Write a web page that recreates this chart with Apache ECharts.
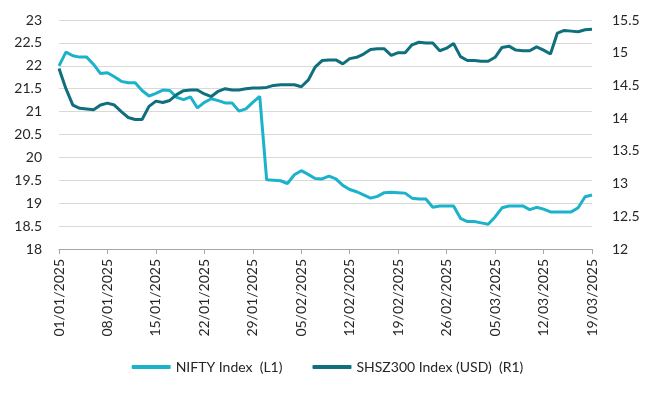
<!DOCTYPE html>
<html>
<head>
<meta charset="utf-8">
<script src="https://cdn.jsdelivr.net/npm/echarts@6/dist/echarts.min.js"></script>
<style>
  html, body { margin: 0; padding: 0; background: #fff; }
  #chartData { width: 655px; height: 398px; }
</style>
</head>
<body>
<div id="chartData"></div>
<script>
// daily dates 01/01/2025 .. 19/03/2025
var dates = [];
for (var i = 0; i < 78; i++) {
  var d = new Date(Date.UTC(2025, 0, 1 + i));
  var dd = String(d.getUTCDate()).padStart(2, '0');
  var mm = String(d.getUTCMonth() + 1).padStart(2, '0');
  dates.push(dd + '/' + mm + '/' + d.getUTCFullYear());
}

var nifty = [
  22.0, 22.3, 22.22, 22.19, 22.19, 22.03, 21.83, 21.85, 21.76, 21.66,
  21.63, 21.63, 21.46, 21.34, 21.4, 21.47, 21.46, 21.31, 21.26, 21.32,
  21.08, 21.2, 21.28, 21.24, 21.19, 21.19, 21.01, 21.06, 21.2, 21.33,
  19.51, 19.5, 19.49, 19.43, 19.62, 19.71, 19.63, 19.54, 19.53, 19.59,
  19.53, 19.39, 19.3, 19.25, 19.18, 19.11, 19.15, 19.23, 19.24, 19.23,
  19.22, 19.11, 19.09, 19.09, 18.91, 18.94, 18.94, 18.94, 18.67, 18.6,
  18.6, 18.57, 18.54, 18.7, 18.9, 18.94, 18.94, 18.94, 18.86, 18.91,
  18.87, 18.81, 18.81, 18.81, 18.81, 18.9, 19.14, 19.18
];

var shsz = [
  14.76, 14.45, 14.2, 14.15, 14.14, 14.13, 14.2, 14.23, 14.2, 14.1,
  14.01, 13.98, 13.98, 14.18, 14.26, 14.24, 14.27, 14.36, 14.42, 14.43,
  14.43, 14.37, 14.33, 14.41, 14.45, 14.43, 14.43, 14.45, 14.46, 14.46,
  14.47, 14.5, 14.51, 14.51, 14.51, 14.48, 14.58, 14.78, 14.88, 14.89,
  14.89, 14.83, 14.91, 14.93, 14.98, 15.05, 15.06, 15.06, 14.96, 15.0,
  15.0, 15.12, 15.16, 15.15, 15.15, 15.03, 15.07, 15.14, 14.94, 14.88,
  14.88, 14.87, 14.87, 14.93, 15.08, 15.1, 15.04, 15.03, 15.03, 15.09,
  15.04, 14.98, 15.3, 15.34, 15.33, 15.32, 15.35, 15.36
];

var seriesNames = ['NIFTY Index  (L1)', 'SHSZ300 Index (USD)  (R1)'];

var myChart = echarts.init(document.getElementById('chartData'));
var font = 'Lato, "Open Sans", sans-serif';

var option = {
  animation: false,
  textStyle: { fontFamily: font },
  grid: { left: 59, right: 63, top: 20, bottom: 149 },
  legend: {
    bottom: 19,
    left: 'center',
    icon: 'roundRect',
    itemWidth: 39,
    itemHeight: 4,
    itemGap: 30,
    textStyle: { fontFamily: font, fontSize: 14, color: '#262626' },
    data: seriesNames
  },
  xAxis: {
    type: 'category',
    data: dates,
    boundaryGap: false,
    axisLine: { lineStyle: { color: '#a6a6a6', width: 1 } },
    axisTick: { interval: 6, length: 5, lineStyle: { color: '#a6a6a6' } },
    axisLabel: {
      interval: 6,
      rotate: 90,
      margin: 10,
      fontFamily: font,
      fontSize: 14,
      color: '#262626'
    },
    splitLine: { show: false }
  },
  yAxis: [
    {
      type: 'value',
      min: 18,
      max: 23,
      interval: 0.5,
      axisLine: { show: false },
      axisTick: { show: false },
      axisLabel: { margin: 17, fontFamily: font, fontSize: 14, color: '#262626' },
      splitLine: { show: true, lineStyle: { color: '#d9d9d9', width: 1 } }
    },
    {
      type: 'value',
      min: 12,
      max: 15.5,
      interval: 0.5,
      axisLine: { show: false },
      axisTick: { show: false },
      axisLabel: { margin: 20, fontFamily: font, fontSize: 14, color: '#262626' },
      splitLine: { show: false }
    }
  ],
  series: [
    {
      name: seriesNames[0],
      type: 'line',
      yAxisIndex: 0,
      data: nifty,
      showSymbol: false,
      itemStyle: { color: '#1bb2cb' },
      lineStyle: { color: '#1bb2cb', width: 3 }
    },
    {
      name: seriesNames[1],
      type: 'line',
      yAxisIndex: 1,
      data: shsz,
      showSymbol: false,
      itemStyle: { color: '#0f6f7d' },
      lineStyle: { color: '#0f6f7d', width: 3 }
    }
  ]
};
myChart.setOption(option, true);
</script>
</body>
</html>
